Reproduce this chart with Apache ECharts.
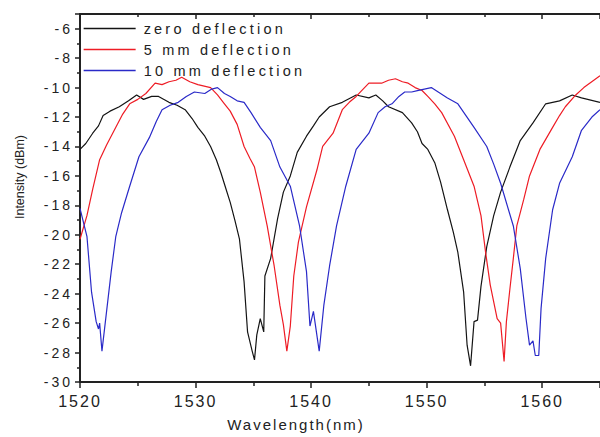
<!DOCTYPE html>
<html>
<head>
<meta charset="utf-8">
<script src="https://cdn.jsdelivr.net/npm/echarts@6/dist/echarts.min.js"></script>
<style>
  html, body { margin: 0; padding: 0; background: #fff; }
  #main { width: 600px; height: 437px; }
  /* the scanned figure is stretched sideways, so widen the horizontal texts */
  #main text[style*="14px"] { letter-spacing: 3px; }
  #main text[style*="14.5px"] { letter-spacing: 3.2px; }
  #main text[style*="16px"] { letter-spacing: 2px; }
  #main text[style*="15px"] { letter-spacing: 2px; }
</style>
</head>
<body>
<div id="main"></div>
<script>
  // zero deflection
  const zeroWl = [1520.0, 1520.5, 1521.1, 1521.6, 1522.0, 1522.6, 1523.4, 1524.2, 1524.9, 1525.5, 1526.2, 1526.8, 1527.7, 1528.4, 1529.1, 1529.7, 1530.2, 1530.8, 1531.3, 1531.8, 1532.2, 1532.6, 1533.0, 1533.4, 1533.8, 1534.2, 1534.5, 1534.9, 1535.1, 1535.3, 1535.6, 1535.9, 1536.0, 1536.5, 1537.1, 1537.6, 1538.2, 1538.8, 1539.6, 1540.2, 1540.7, 1541.6, 1542.7, 1543.9, 1545.0, 1545.6, 1546.2, 1546.7, 1547.9, 1548.7, 1549.2, 1549.6, 1550.1, 1550.7, 1551.2, 1551.8, 1552.3, 1552.7, 1553.2, 1553.5, 1553.8, 1554.1, 1554.4, 1554.7, 1555.2, 1555.8, 1556.4, 1557.2, 1558.1, 1559.2, 1560.3, 1561.5, 1562.6, 1563.4, 1565.0]
  const zeroDb = [-14.2, -13.8, -13.1, -12.6, -11.9, -11.6, -11.3, -10.9, -10.5, -10.8, -10.6, -10.6, -11.0, -11.2, -11.5, -12.1, -12.7, -13.3, -14.0, -14.9, -15.8, -16.8, -17.8, -19.0, -20.3, -23.2, -26.6, -27.9, -28.5, -26.8, -25.7, -26.6, -22.8, -21.6, -18.9, -17.1, -16.0, -14.4, -13.3, -12.6, -12.0, -11.3, -11.0, -10.5, -10.7, -10.5, -10.9, -11.3, -11.7, -12.4, -13.0, -13.8, -14.2, -15.1, -16.4, -18.3, -19.8, -21.2, -23.9, -27.5, -28.9, -25.9, -25.8, -23.5, -20.8, -18.7, -17.1, -15.4, -13.6, -12.4, -11.1, -10.9, -10.5, -10.7, -11.0]

  // 5 mm deflection
  const fiveWl = [1520.0, 1520.6, 1521.1, 1521.7, 1522.3, 1523.1, 1523.7, 1524.3, 1525.0, 1525.7, 1526.5, 1527.1, 1527.7, 1528.3, 1528.8, 1529.5, 1530.2, 1531.3, 1531.9, 1532.5, 1533.0, 1533.6, 1534.2, 1534.7, 1535.1, 1535.6, 1536.2, 1536.8, 1537.3, 1537.6, 1537.9, 1538.2, 1538.5, 1538.9, 1539.6, 1540.5, 1541.0, 1541.9, 1542.7, 1543.3, 1543.9, 1544.5, 1545.0, 1546.1, 1546.7, 1547.3, 1547.9, 1548.4, 1549.0, 1549.6, 1550.1, 1550.7, 1551.3, 1552.4, 1553.2, 1554.1, 1554.7, 1555.1, 1555.5, 1556.1, 1556.4, 1556.7, 1556.9, 1557.2, 1557.5, 1557.8, 1558.4, 1558.9, 1559.8, 1560.9, 1561.5, 1562.0, 1562.9, 1563.6, 1565.0]
  const fiveDb = [-20.3, -18.7, -16.9, -14.9, -13.9, -12.7, -11.8, -11.1, -10.8, -10.4, -9.7, -9.8, -9.6, -9.5, -9.3, -9.6, -9.8, -10.0, -10.5, -11.1, -11.6, -12.5, -14.0, -14.8, -15.4, -17.1, -19.4, -22.1, -24.8, -26.1, -27.9, -26.2, -22.8, -20.5, -18.1, -15.6, -14.0, -13.1, -11.5, -11.0, -10.6, -10.1, -9.7, -9.7, -9.5, -9.4, -9.6, -9.7, -10.0, -10.2, -10.6, -11.1, -11.7, -13.3, -14.9, -16.7, -18.7, -21.2, -23.4, -25.7, -26.0, -28.6, -25.9, -23.7, -21.6, -19.4, -17.6, -16.0, -14.2, -12.7, -11.9, -11.3, -10.5, -10.0, -9.2]

  // 10 mm deflection
  const tenWl = [1520.0, 1520.6, 1521.0, 1521.4, 1521.6, 1521.7, 1521.9, 1522.3, 1522.7, 1523.1, 1523.6, 1524.3, 1525.1, 1526.0, 1526.6, 1527.1, 1527.8, 1528.5, 1529.2, 1529.9, 1530.8, 1531.4, 1531.9, 1532.5, 1533.0, 1533.6, 1534.2, 1534.8, 1535.6, 1536.5, 1537.3, 1538.2, 1539.0, 1539.6, 1539.9, 1540.2, 1540.7, 1541.1, 1541.6, 1542.2, 1543.0, 1543.9, 1545.0, 1545.8, 1546.4, 1547.0, 1547.6, 1548.1, 1548.7, 1549.2, 1549.8, 1550.4, 1551.0, 1551.8, 1552.7, 1553.4, 1554.1, 1555.2, 1555.8, 1556.4, 1557.5, 1558.1, 1558.6, 1558.9, 1559.2, 1559.4, 1559.7, 1559.9, 1560.3, 1560.9, 1561.5, 1562.6, 1563.4, 1564.3, 1565.0]
  const tenDb = [-18.2, -20.1, -23.9, -25.9, -26.4, -26.0, -27.9, -25.2, -22.5, -20.1, -18.5, -16.7, -14.7, -13.4, -12.3, -11.5, -11.2, -11.0, -10.6, -10.3, -10.4, -10.1, -10.0, -10.4, -10.6, -10.9, -11.0, -11.7, -12.7, -13.6, -15.4, -16.7, -19.4, -22.5, -26.2, -25.2, -27.9, -24.8, -22.1, -19.4, -16.7, -14.2, -13.1, -11.7, -11.3, -11.1, -10.6, -10.3, -10.3, -10.2, -10.1, -10.0, -10.3, -10.7, -11.1, -11.9, -12.7, -14.0, -15.2, -16.5, -19.4, -22.3, -25.7, -27.5, -27.2, -28.2, -28.2, -25.0, -21.6, -18.3, -16.5, -14.7, -12.9, -12.0, -11.5]

  const seriesNames = ['zero deflection', '5 mm deflection', '10 mm deflection']
  const seriesColors = ['#141414', '#ee1c25', '#2a2ac8']

  const pair = (xs, ys) => xs.map((x, i) => [x, ys[i]])
  const curves = [pair(zeroWl, zeroDb), pair(fiveWl, fiveDb), pair(tenWl, tenDb)]

  const font = 'Liberation Sans, Arial, sans-serif'
  const chart = echarts.init(document.getElementById('main'), null, { renderer: 'svg' })

  chart.setOption({
    animation: false,
    color: seriesColors,
    grid: { left: 80, top: 14, bottom: 53, right: -8 },
    legend: {
      orient: 'vertical',
      left: 83,
      top: 21,
      padding: 0,
      itemWidth: 52,
      itemHeight: 14,
      itemGap: 6,
      data: seriesNames,
      itemStyle: { opacity: 0 },
      lineStyle: { width: 1.3 },
      textStyle: { fontSize: 14.5, fontFamily: font, color: '#222', padding: [0, 0, 0, 3] }
    },
    xAxis: [
      {
        type: 'value',
        min: 1520,
        max: 1565,
        interval: 10,
        name: 'Wavelength(nm)',
        nameLocation: 'middle',
        nameGap: 35,
        nameTextStyle: { fontSize: 15, fontFamily: font, color: '#222', padding: [0, 88, 0, 0] },
        axisLine: { lineStyle: { color: '#222', width: 2 } },
        axisTick: { length: 6, lineStyle: { color: '#222', width: 1.5 } },
        minorTick: { show: true, splitNumber: 2, length: 4, lineStyle: { color: '#222', width: 1.5 } },
        splitLine: { show: false },
        axisLabel: {
          fontSize: 16, fontFamily: font, color: '#222', margin: 11, showMaxLabel: false,
          formatter: v => String(v)
        }
      },
      {
        type: 'value',
        position: 'top',
        min: 1520,
        max: 1565,
        interval: 10,
        axisLine: { lineStyle: { color: '#222', width: 2 } },
        axisTick: { inside: true, length: 5, lineStyle: { color: '#222', width: 1.5 } },
        minorTick: { show: true, splitNumber: 2, length: 3, lineStyle: { color: '#222', width: 1.5 } },
        splitLine: { show: false },
        axisLabel: { show: false }
      }
    ],
    yAxis: {
      type: 'value',
      min: -30,
      max: -5,
      interval: 2,
      name: 'Intensity (dBm)',
      nameLocation: 'middle',
      nameGap: 54,
      nameTextStyle: { fontSize: 12.5, fontFamily: font, color: '#222', padding: [0, 0, 0, 42] },
      axisLine: { show: true, lineStyle: { color: '#222', width: 2 } },
      axisTick: { show: true, length: 5, lineStyle: { color: '#222', width: 1.5 } },
      minorTick: { show: true, splitNumber: 2, length: 3, lineStyle: { color: '#222', width: 1.5 } },
      splitLine: { show: false },
      axisLabel: { fontSize: 14, fontFamily: font, color: '#222', margin: 7, showMaxLabel: false }
    },
    series: seriesNames.map((name, i) => ({
      name: name,
      type: 'line',
      symbol: 'none',
      data: curves[i],
      lineStyle: { width: 1.2 }
    }))
  })
</script>
</body>
</html>
